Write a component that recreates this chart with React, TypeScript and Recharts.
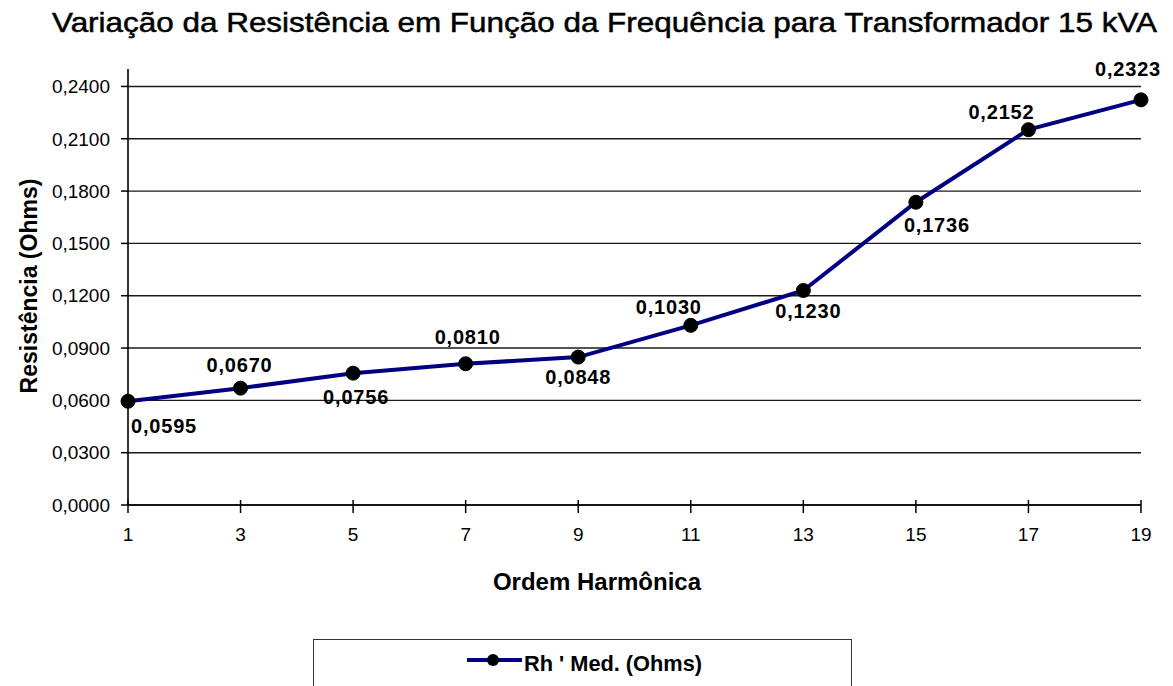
import React from 'react';
import { LineChart, Line, XAxis, YAxis, CartesianGrid, Legend, LabelList } from 'recharts';

const harmonics = [1, 3, 5, 7, 9, 11, 13, 15, 17, 19];
const resistance = [0.0595, 0.067, 0.0756, 0.081, 0.0848, 0.103, 0.123, 0.1736, 0.2152, 0.2323];
const yTicks = [0, 0.03, 0.06, 0.09, 0.12, 0.15, 0.18, 0.21, 0.24];
const seriesName = "Rh ' Med. (Ohms)";
const titleText = 'Variação da Resistência em Função da Frequência para Transformador 15 kVA';
const xTitle = 'Ordem Harmônica';
const yTitle = 'Resistência (Ohms)';

// label placement offsets (style, not data): [dx, dy] from the point
const labelOffsets: [number, number][] = [
  [36, 25], [-1, -23], [3, 24], [2, -27], [0, 20], [-22, -18], [5, 21], [21, 23], [-27, -18], [-13, -31],
];

const data = harmonics.map((h, i) => ({ h, r: resistance[i] }));

const FONT = "'Liberation Sans', Arial, sans-serif";
const fmt = (v: number) => v.toFixed(4).replace('.', ',');

const XTick = (props: any) => {
  const { x, y, payload } = props;
  const axisY = y - 23;
  return (
    <g>
      <line x1={x} x2={x} y1={axisY - 5} y2={axisY + 8} stroke="#000" strokeWidth={1.5} />
      <text x={x} y={y} dy="0.71em" textAnchor="middle" fontFamily={FONT} fontSize={19} fill="#000">
        {payload.value}
      </text>
    </g>
  );
};

const renderLabel = (props: any) => {
  const { x, y, value, index } = props;
  const [dx, dy] = labelOffsets[index] || [0, -20];
  return (
    <text
      x={x + dx}
      y={y + dy}
      textAnchor="middle"
      dominantBaseline="central"
      fontFamily={FONT}
      fontWeight="bold"
      fontSize={20}
      letterSpacing={0.8}
      fill="#000"
    >
      {fmt(value)}
    </text>
  );
};

const renderLegend = (props: any) => {
  const { payload } = props;
  const item = payload && payload[0];
  return (
    <div
      style={{
        position: 'absolute',
        left: 0,
        top: 0,
        width: 539,
        height: 70,
        border: '1.5px solid #333',
        boxSizing: 'border-box',
        background: '#fff',
      }}
    >
      <svg width={539} height={70} style={{ position: 'absolute', left: -1.5, top: -1.5 }}>
        <line x1={154} x2={209} y1={21} y2={21} stroke="#000080" strokeWidth={4} />
        <circle cx={180} cy={21} r={6} fill="#000" />
        <text
          x={211}
          y={32}
          fontFamily={FONT}
          fontWeight="bold"
          fontSize={22}
          textLength={178}
          lengthAdjust="spacingAndGlyphs"
          fill="#000"
        >
          {item ? item.value : seriesName}
        </text>
      </svg>
    </div>
  );
};

export default function App() {
  return (
    <div style={{ position: 'absolute', left: 0, top: 0, width: 1173, height: 686, background: '#fff', overflow: 'hidden' }}>
      <LineChart width={1173} height={686} data={data} margin={{ top: 69, right: 32, bottom: 121, left: 0 }}>
        <CartesianGrid
          horizontal
          vertical={false}
          horizontalValues={yTicks}
          syncWithTicks
          stroke="#1a1a1a"
          strokeWidth={1.4}
        />
        <XAxis
          dataKey="h"
          type="number"
          domain={[1, 19]}
          ticks={harmonics}
          interval={0}
          height={60}
          tickSize={8}
          tickMargin={15}
          tickLine={false}
          axisLine={{ stroke: '#000', strokeWidth: 1.6 }}
          tick={<XTick />}
        />
        <YAxis
          type="number"
          domain={[0, 0.25]}
          ticks={yTicks}
          interval={0}
          width={128}
          tickSize={7}
          tickMargin={11}
          tickFormatter={fmt}
          axisLine={{ stroke: '#000', strokeWidth: 1.6 }}
          tickLine={{ stroke: '#000', strokeWidth: 1.5 }}
          tick={{ fill: '#000', fontSize: 19, fontFamily: FONT }}
        />
        <Legend
          layout="horizontal"
          verticalAlign="middle"
          align="center"
          content={renderLegend}
          wrapperStyle={{ position: 'absolute', left: 313, top: 639, width: 539, height: 70 }}
        />
        <Line
          name={seriesName}
          dataKey="r"
          type="linear"
          stroke="#000080"
          strokeWidth={4}
          dot={{ r: 7, fill: '#000', stroke: '#000', strokeWidth: 1 }}
          activeDot={false}
          isAnimationActive={false}
        >
          <LabelList dataKey="r" content={renderLabel} />
        </Line>
        <text
          x={52}
          y={32}
          fontFamily={FONT}
          fontSize={28}
          textLength={1105}
          lengthAdjust="spacingAndGlyphs"
          fill="#000"
          stroke="#000"
          strokeWidth={0.5}
        >
          {titleText}
        </text>
        <text x={597} y={590} textAnchor="middle" fontFamily={FONT} fontWeight="bold" fontSize={24} fill="#000">
          {xTitle}
        </text>
        <text
          x={37}
          y={286}
          transform="rotate(-90 37 286)"
          textAnchor="middle"
          fontFamily={FONT}
          fontWeight="bold"
          fontSize={23}
          fill="#000"
        >
          {yTitle}
        </text>
      </LineChart>
    </div>
  );
}
